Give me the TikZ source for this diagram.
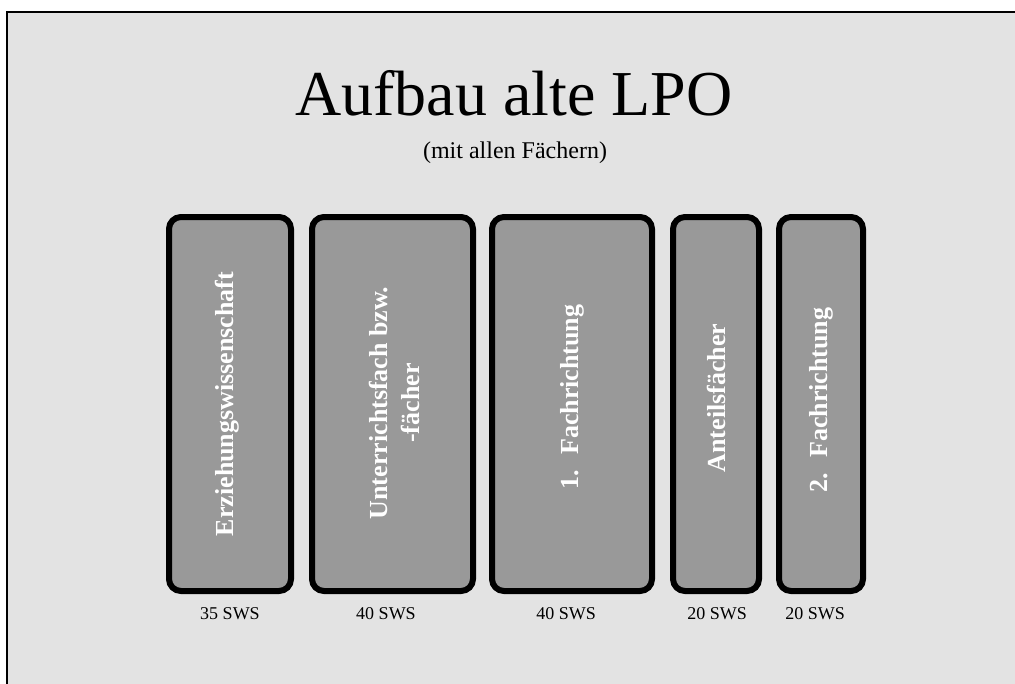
\documentclass[tikz,border=0pt]{standalone}
\usepackage{fontspec}
\setmainfont{Liberation Serif}
\begin{document}
\begin{tikzpicture}[x=1pt,y=-1pt,
  box/.style={draw=black,line width=6pt,fill=boxgray,rounded corners=12pt,inner sep=0pt},
  boxtext/.style={text=white,rotate=90,font=\fontsize{26}{32}\selectfont\bfseries,align=center,inner sep=0pt},
  sws/.style={anchor=base,font=\fontsize{18}{20}\selectfont,inner sep=0pt}]
\definecolor{boxgray}{HTML}{999999}
\definecolor{bggray}{HTML}{E3E3E3}
\useasboundingbox (0,0) rectangle (1015,683);
\fill[white] (0,0) rectangle (1015,683);
\begin{scope}
\clip (0,0) rectangle (1015,683);
\draw[line width=2.5pt,fill=bggray] (7,12) rectangle (1030,700);
\end{scope}
\node[anchor=base,font=\fontsize{64}{70}\selectfont,inner sep=0pt] (title) at (514,115) {Aufbau alte LPO};
\node[anchor=base,font=\fontsize{24}{28}\selectfont,inner sep=0pt] (sub) at (515,158) {(mit allen Fächern)};
\node[box,minimum width=122pt,minimum height=374pt] (b1) at (230,404) {};
\node[box,minimum width=161pt,minimum height=374pt] (b2) at (392.5,404) {};
\node[box,minimum width=160pt,minimum height=374pt] (b3) at (572,404) {};
\node[box,minimum width=86pt,minimum height=374pt] (b4) at (716,404) {};
\node[box,minimum width=84pt,minimum height=374pt] (b5) at (821,404) {};
\node[boxtext] (t1) at (227,404) {Erziehungswissenschaft};
\node[boxtext] (t2) at (394,403) {Unterrichtsfach bzw.\\-fächer};
\node[boxtext] (t3) at (572,397) {1.~ Fachrichtung};
\node[boxtext] (t4) at (716,398) {Anteilsfächer};
\node[boxtext] (t5) at (821,400) {2.~ Fachrichtung};
\node[sws] (s1) at (230,619) {35 SWS};
\node[sws] (s2) at (386,619) {40 SWS};
\node[sws] (s3) at (566,619) {40 SWS};
\node[sws] (s4) at (717,619) {20 SWS};
\node[sws] (s5) at (815,619) {20 SWS};
\end{tikzpicture}
\end{document}
